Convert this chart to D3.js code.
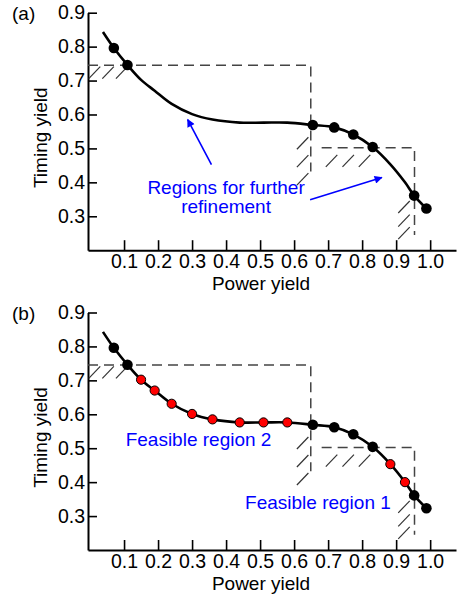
<!DOCTYPE html>
<html>
<head>
<meta charset="utf-8">
<script src="https://cdn.jsdelivr.net/npm/d3@7"></script>
<style>
  body { margin: 0; background: #fff; }
  text { font-family: "Liberation Sans", Arial, sans-serif; }
</style>
</head>
<body>
<div id="chart"></div>
<script>
//////////////////////////////// Data ////////////////////////////////
var xTicks = [0.1, 0.2, 0.3, 0.4, 0.5, 0.6, 0.7, 0.8, 0.9, 1.0];
var yTicks = [0.3, 0.4, 0.5, 0.6, 0.7, 0.8, 0.9];

//Start of the trade-off curve (no marker)
var curveStart = [0.038, 0.843];

//Points already simulated (black)
var blackPts = [
  [0.070, 0.796], [0.110, 0.746], [0.655, 0.569], [0.718, 0.562],
  [0.774, 0.541], [0.831, 0.504], [0.953, 0.361], [0.989, 0.323]
];

//Points added after refinement (red, panel b only)
var redPts = [
  [0.150, 0.702], [0.190, 0.670], [0.240, 0.631], [0.300, 0.601],
  [0.360, 0.585], [0.440, 0.576], [0.510, 0.576], [0.580, 0.576],
  [0.883, 0.453], [0.926, 0.400]
];

//Dashed constraint boxes
var boxes = [
  {xFrom: -0.006, xTo: 0.649, yLevel: 0.745, yBottom: 0.432},
  {xFrom: 0.681, xTo: 0.954, yLevel: 0.502, yBottom: 0.245}
];

//Hatch marks, upper-right end in data units
var hatches = [
  [0.030, 0.741], [0.070, 0.741], [0.110, 0.741],
  [0.642, 0.533], [0.642, 0.480], [0.642, 0.427],
  [0.727, 0.481], [0.776, 0.481], [0.824, 0.481],
  [0.940, 0.345], [0.940, 0.305], [0.940, 0.268]
];

//Annotations
var arrowsA = [
  {from: [0.357, 0.452], to: [0.287, 0.585]},
  {from: [0.647, 0.349], to: [0.858, 0.414]}
];
var labelsA = [
  {x: 0.40, y: 0.367, text: "Regions for further"},
  {x: 0.40, y: 0.309, text: "refinement"}
];
var labelsB = [
  {x: 0.319, y: 0.508, text: "Feasible region 2"},
  {x: 0.670, y: 0.322, text: "Feasible region 1"}
];

//////////////////////////////// Set up ////////////////////////////////
var width = 457, height = 599;
var panelH = 237.5;

var svg = d3.select("#chart").append("svg")
  .attr("width", width)
  .attr("height", height);

var defs = svg.append("defs");
defs.append("marker")
  .attr("id", "arrow-blue")
  .attr("viewBox", "0 0 10 10")
  .attr("refX", 9).attr("refY", 5)
  .attr("markerWidth", 9).attr("markerHeight", 8)
  .attr("markerUnits", "userSpaceOnUse")
  .attr("orient", "auto")
  .append("path")
    .attr("d", "M0,0 L10,5 L0,10 z")
    .style("fill", "#0000ff");

var x = d3.scaleLinear().domain([-0.006, 1.076]).range([88, 456]);

var line = d3.line()
  .x(function(d) { return x(d[0]); })
  .curve(d3.curveCatmullRom.alpha(0.5));

var allPts = [curveStart].concat(blackPts).concat(redPts)
  .sort(function(a, b) { return a[0] - b[0]; });

drawPanel(12.7, "(a)", false, arrowsA, labelsA);
drawPanel(312.5, "(b)", true, [], labelsB);

//////////////////////////////// Panel ////////////////////////////////
function drawPanel(top, tag, showRed, arrows, labels) {

  var y = d3.scaleLinear().domain([0.2, 0.9]).range([top + panelH, top]);
  var g = svg.append("g");

  //Axes
  g.append("g")
    .attr("transform", "translate(" + x(-0.006) + ",0)")
    .call(d3.axisLeft(y).tickValues(yTicks).tickFormat(d3.format(".1f"))
      .tickSizeInner(-9).tickSizeOuter(0).tickPadding(3));

  g.append("g")
    .attr("transform", "translate(0," + y(0.2) + ")")
    .call(d3.axisBottom(x).tickValues(xTicks).tickFormat(d3.format(".1f"))
      .tickSizeInner(-10).tickSizeOuter(0).tickPadding(4));

  g.selectAll(".domain").style("stroke", "#000").style("stroke-width", 2);
  g.selectAll(".tick line").style("stroke", "#000").style("stroke-width", 1.6);
  g.selectAll(".tick text").style("font-size", "19.5px").style("fill", "#000")
    .style("font-family", "'Liberation Sans', Arial, sans-serif");

  //Axis titles
  g.append("text")
    .attr("x", 261).attr("y", y(0.2) + 40)
    .attr("text-anchor", "middle")
    .style("font-size", "19px")
    .text("Power yield");

  g.append("text")
    .attr("transform", "translate(47," + (top + 125) + ") rotate(-90)")
    .attr("text-anchor", "middle")
    .style("font-size", "19px")
    .text("Timing yield");

  g.append("text")
    .attr("x", 12).attr("y", top + 7)
    .style("font-size", "19px")
    .text(tag);

  //Dashed boxes
  boxes.forEach(function(b) {
    g.append("path")
      .attr("d", "M" + x(b.xFrom) + "," + y(b.yLevel) +
                 "L" + x(b.xTo) + "," + y(b.yLevel) +
                 "L" + x(b.xTo) + "," + y(b.yBottom))
      .style("fill", "none")
      .style("stroke", "#444")
      .style("stroke-width", 1.5)
      .style("stroke-dasharray", "10,6");
  });

  //Hatches
  g.selectAll(".hatch")
    .data(hatches)
    .enter().append("line")
    .attr("class", "hatch")
    .attr("x1", function(d) { return x(d[0]); })
    .attr("y1", function(d) { return y(d[1]); })
    .attr("x2", function(d) { return x(d[0]) - 11.5; })
    .attr("y2", function(d) { return y(d[1]) + 12; })
    .style("stroke", "#333")
    .style("stroke-width", 1.2);

  //Curve
  line.y(function(d) { return y(d[1]); });
  g.append("path")
    .datum(allPts)
    .attr("d", line)
    .style("fill", "none")
    .style("stroke", "#000")
    .style("stroke-width", 2.6);

  //Markers
  g.selectAll(".black-pt")
    .data(blackPts)
    .enter().append("circle")
    .attr("class", "black-pt")
    .attr("cx", function(d) { return x(d[0]); })
    .attr("cy", function(d) { return y(d[1]); })
    .attr("r", 5.3)
    .style("fill", "#000");

  if(showRed) {
    g.selectAll(".red-pt")
      .data(redPts)
      .enter().append("circle")
      .attr("class", "red-pt")
      .attr("cx", function(d) { return x(d[0]); })
      .attr("cy", function(d) { return y(d[1]); })
      .attr("r", 4.6)
      .style("fill", "#ff0000")
      .style("stroke", "#000")
      .style("stroke-width", 1);
  }//if

  //Annotations
  g.selectAll(".anno-arrow")
    .data(arrows)
    .enter().append("line")
    .attr("class", "anno-arrow")
    .attr("x1", function(d) { return x(d.from[0]); })
    .attr("y1", function(d) { return y(d.from[1]); })
    .attr("x2", function(d) { return x(d.to[0]); })
    .attr("y2", function(d) { return y(d.to[1]); })
    .style("stroke", "#0000ff")
    .style("stroke-width", 1.6)
    .attr("marker-end", "url(#arrow-blue)");

  g.selectAll(".anno-label")
    .data(labels)
    .enter().append("text")
    .attr("class", "anno-label")
    .attr("x", function(d) { return x(d.x); })
    .attr("y", function(d) { return y(d.y); })
    .attr("text-anchor", "middle")
    .style("font-size", "19px")
    .style("fill", "#0000ff")
    .text(function(d) { return d.text; });

}//function drawPanel
</script>
</body>
</html>
